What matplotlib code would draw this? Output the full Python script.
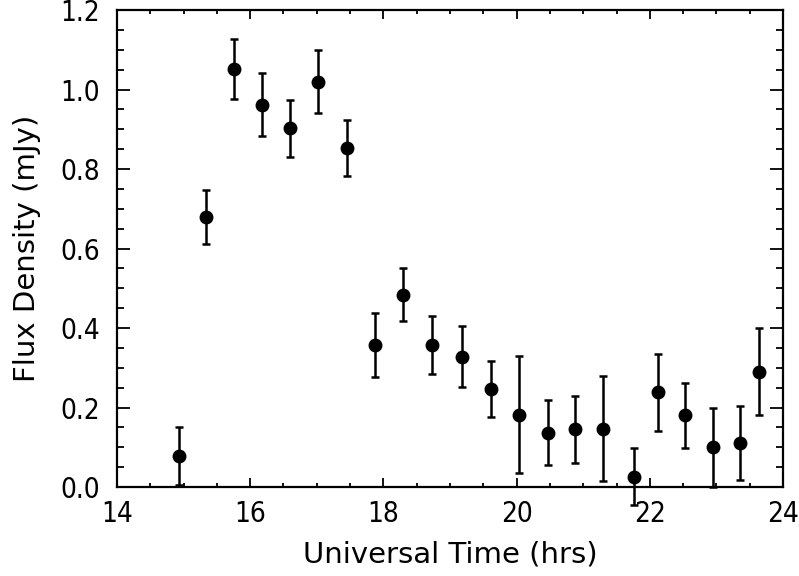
import matplotlib
matplotlib.use("Agg")
import matplotlib.pyplot as plt
from matplotlib import font_manager
from matplotlib.ticker import MultipleLocator, FormatStrFormatter

time_hrs = [14.93, 15.34, 15.75, 16.17, 16.60, 17.02, 17.45, 17.88, 18.30, 18.73, 19.18,
            19.62, 20.04, 20.47, 20.88, 21.29, 21.76, 22.12, 22.53, 22.95, 23.36, 23.64]
flux_mjy = [0.077, 0.679, 1.052, 0.962, 0.902, 1.020, 0.853, 0.357, 0.484, 0.357, 0.328,
            0.246, 0.182, 0.137, 0.145, 0.147, 0.026, 0.238, 0.180, 0.100, 0.111, 0.290]
flux_err = [0.073, 0.068, 0.075, 0.080, 0.072, 0.079, 0.070, 0.080, 0.067, 0.073, 0.077,
            0.070, 0.147, 0.082, 0.085, 0.133, 0.072, 0.096, 0.082, 0.100, 0.093, 0.110]

plt.rcParams['font.family'] = ['DejaVu Sans']
fp = font_manager.FontProperties(family='DejaVu Sans', stretch='condensed')
path = font_manager.findfont(fp, fallback_to_default=False)
condensed = 'Condensed' in path
tick_fp = font_manager.FontProperties(family='DejaVu Sans',
                                      stretch='condensed' if condensed else 'normal',
                                      size=20 if condensed else 18)

fig = plt.figure(figsize=(7.99, 5.76), dpi=100)
ax = fig.add_axes([0.1464, 0.1545, 0.8336, 0.8281])

ax.errorbar(time_hrs, flux_mjy, yerr=flux_err, fmt='o', color='black',
            markersize=9, elinewidth=1.8, capsize=3, capthick=1.8, clip_on=False, zorder=3)

ax.set_xlim(14, 24)
ax.set_ylim(0, 1.2)
ax.xaxis.set_major_locator(MultipleLocator(2))
ax.xaxis.set_minor_locator(MultipleLocator(0.5))
ax.yaxis.set_major_locator(MultipleLocator(0.2))
ax.yaxis.set_minor_locator(MultipleLocator(0.05))
ax.yaxis.set_major_formatter(FormatStrFormatter('%.1f'))

ax.tick_params(axis='both', which='both', direction='in', top=True, right=True, width=1.3)
ax.tick_params(axis='x', which='major', length=6.5, pad=9)
ax.tick_params(axis='x', which='minor', length=3.2)
ax.tick_params(axis='y', which='major', length=9.4, pad=12)
ax.tick_params(axis='y', which='minor', length=4.7)
for lab in ax.get_xticklabels() + ax.get_yticklabels():
    lab.set_fontproperties(tick_fp)
for s in ax.spines.values():
    s.set_linewidth(1.6)

ax.set_xlabel('Universal Time (hrs)', fontsize=21, labelpad=9)
ax.set_ylabel('Flux Density (mJy)', fontsize=21, labelpad=14)

fig.savefig('out.png', dpi=100)
